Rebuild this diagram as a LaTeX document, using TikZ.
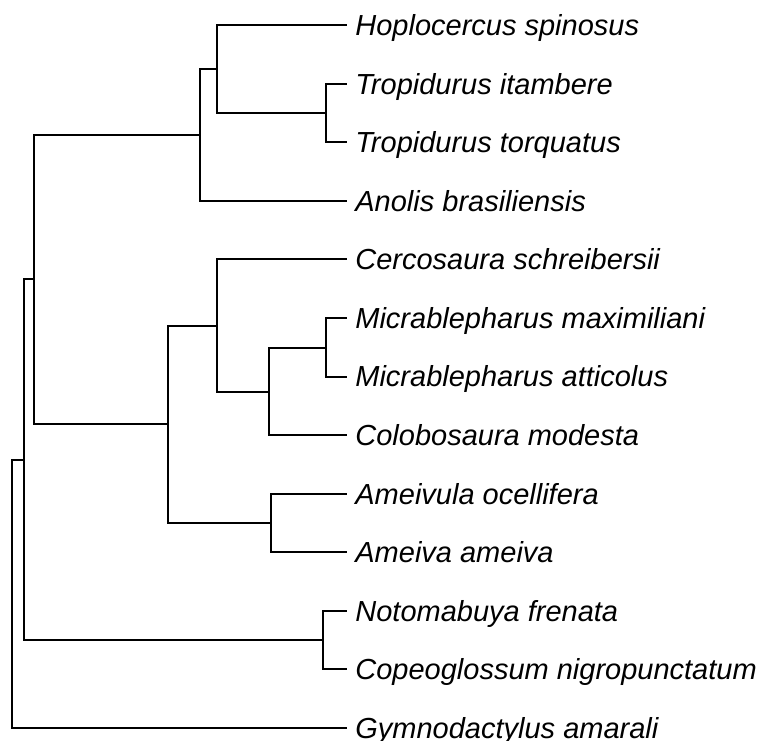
\documentclass[tikz,border=0pt]{standalone}
\usepackage{fontspec}
\setmainfont{Liberation Sans}
\tikzset{
  every picture/.style={
    line join=miter,
  },
  branch/.style={line width=1pt, black},
  tip/.style={anchor=west, inner xsep=4pt, inner ysep=0pt,
    text height=10.4pt, text depth=0pt,
    font=\itshape\fontsize{14.5}{17}\selectfont},
}
\begin{document}
\begin{tikzpicture}[x=0.5pt, y=-0.5pt]
    \useasboundingbox (0,0) rectangle (760,740);

    % Tips
    \node[tip] (hoplo) at (347,25)    {Hoplocercus spinosus};
    \node[tip] (itamb) at (347,83.6)  {Tropidurus itambere};
    \node[tip] (torq)  at (347,142.2) {Tropidurus torquatus};
    \node[tip] (anol)  at (347,200.8) {Anolis brasiliensis};
    \node[tip] (cerco) at (347,259.3) {Cercosaura schreibersii};
    \node[tip] (mmax)  at (347,317.9) {Micrablepharus maximiliani};
    \node[tip] (matt)  at (347,376.5) {Micrablepharus atticolus};
    \node[tip] (colob) at (347,435.1) {Colobosaura modesta};
    \node[tip] (aocel) at (347,493.7) {Ameivula ocellifera};
    \node[tip] (aame)  at (347,552.3) {Ameiva ameiva};
    \node[tip] (noto)  at (347,610.8) {Notomabuya frenata};
    \node[tip] (copeo) at (347,669.4) {Copeoglossum nigropunctatum};
    \node[tip] (gymno) at (347,728)   {Gymnodactylus amarali};

    % Internal nodes
    \coordinate (root)  at (12,594);
    \coordinate (squam) at (24,460);
    \coordinate (iguan) at (34,279);
    \coordinate (pleur) at (200,135);
    \coordinate (hoptr) at (217,69);
    \coordinate (tropi) at (326,113);
    \coordinate (lacer) at (168,424);
    \coordinate (gymnp) at (217,326);
    \coordinate (micco) at (269,392);
    \coordinate (micra) at (326,348);
    \coordinate (teiid) at (271,523);
    \coordinate (scinc) at (323,640);

    % Branches
    \draw[branch] (root) |- (squam);
    \draw[branch] (root) |- (gymno.west);
    \draw[branch] (squam) |- (iguan);
    \draw[branch] (squam) |- (scinc);
    \draw[branch] (scinc) |- (noto.west);
    \draw[branch] (scinc) |- (copeo.west);
    \draw[branch] (iguan) |- (pleur);
    \draw[branch] (iguan) |- (lacer);
    \draw[branch] (pleur) |- (hoptr);
    \draw[branch] (pleur) |- (anol.west);
    \draw[branch] (hoptr) |- (hoplo.west);
    \draw[branch] (hoptr) |- (tropi);
    \draw[branch] (tropi) |- (itamb.west);
    \draw[branch] (tropi) |- (torq.west);
    \draw[branch] (lacer) |- (gymnp);
    \draw[branch] (lacer) |- (teiid);
    \draw[branch] (gymnp) |- (cerco.west);
    \draw[branch] (gymnp) |- (micco);
    \draw[branch] (micco) |- (micra);
    \draw[branch] (micco) |- (colob.west);
    \draw[branch] (micra) |- (mmax.west);
    \draw[branch] (micra) |- (matt.west);
    \draw[branch] (teiid) |- (aocel.west);
    \draw[branch] (teiid) |- (aame.west);
\end{tikzpicture}
\end{document}
